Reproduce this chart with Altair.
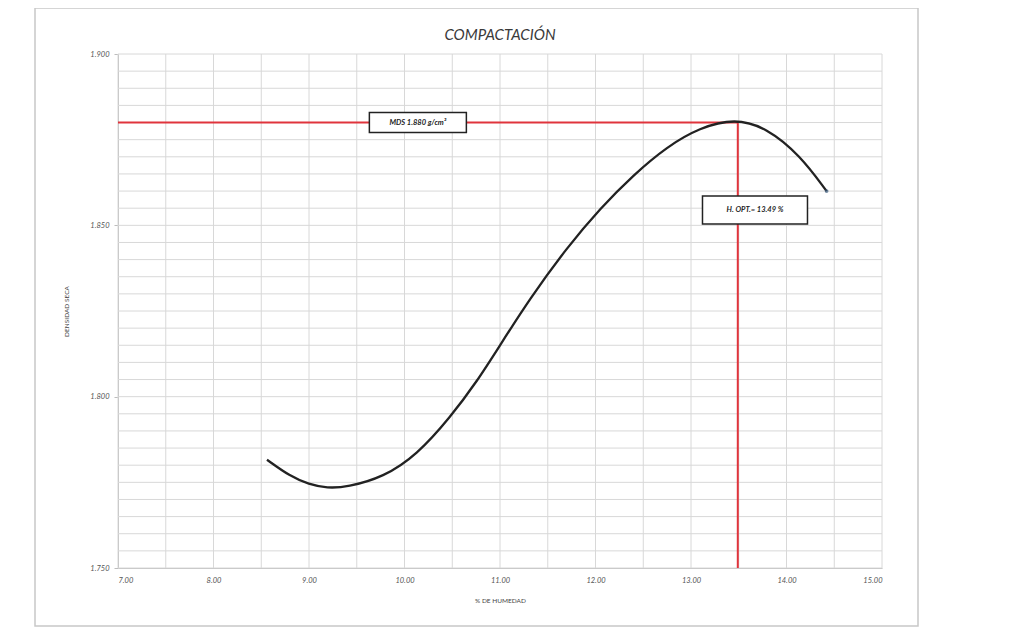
import altair as alt
import pandas as pd

# Curve
humedad = [8.56, 8.80, 9.00, 9.19, 9.40, 9.78, 10.13, 10.48, 10.76, 11.00, 11.31,
           11.70, 12.05, 12.40, 12.75, 13.09, 13.46, 13.79, 14.14, 14.42]
densidad = [1.7816, 1.7768, 1.7744, 1.7733, 1.7736, 1.7765, 1.7830, 1.7940, 1.8045,
            1.8150, 1.8285, 1.8435, 1.8550, 1.8648, 1.8730, 1.8785, 1.8812, 1.8785,
            1.8705, 1.8600]

x_ticks = [7.0, 8.0, 9.0, 10.0, 11.0, 12.0, 13.0, 14.0, 15.0]
y_ticks = [1.750, 1.800, 1.850, 1.900]
x_grid = [7.0 + 0.5 * i for i in range(17)]
y_grid = [round(1.750 + 0.005 * i, 3) for i in range(31)]

mds = 1.880
h_opt = 13.49
labels = ["MDS 1.880 g/cm³", "H. OPT.= 13.49 %"]
label_x = [10.14, 13.67]
label_y = [1.880, 1.8545]
label_w = [97, 105]
label_h = [20, 28]
title_text = ["COMPACTACIÓN"]

FONT = "Lato"
xs = alt.Scale(domain=[7, 15], nice=False, zero=False)
ys = alt.Scale(domain=[1.75, 1.90], nice=False, zero=False)
xaxis = alt.Axis(values=x_ticks, format=".2f", title="% DE HUMEDAD", grid=False,
                 ticks=False, labelPadding=8, titlePadding=14)
yaxis = alt.Axis(values=y_ticks, format=".3f", title="DENSIDAD SECA", grid=False,
                 tickSize=4, labelPadding=5, titlePadding=20)


def X(f):
    return alt.X(f, type="quantitative", scale=xs, axis=xaxis)


def Y(f):
    return alt.Y(f, type="quantitative", scale=ys, axis=yaxis)


curve_df = pd.DataFrame({"h": humedad, "d": densidad})
xg_df = pd.DataFrame({"xg": x_grid})
yg_df = pd.DataFrame({"yg": y_grid})
ref_df = pd.DataFrame({"x0": [x_ticks[0]], "h": [h_opt], "y0": [y_ticks[0]], "d": [mds]})
lab_df = pd.DataFrame({"t": labels, "lx": label_x, "ly": label_y})
title_df = pd.DataFrame({"t": title_text})

frame = alt.Chart(pd.DataFrame({"a": [0]})).mark_rect(
    fillOpacity=0, stroke="#c8c8c8", strokeWidth=1.5
).encode(x=alt.value(-83), x2=alt.value(800), y=alt.value(-46), y2=alt.value(572))

title = alt.Chart(title_df).mark_text(
    font=FONT, fontSize=15, fontStyle="italic", color="#3a3a3a", baseline="middle"
).encode(x=alt.value(382), y=alt.value(-19), text="t")

vgrid = alt.Chart(xg_df).mark_rule(color="#d8d8d8", strokeWidth=1).encode(x=X("xg"))
hgrid = alt.Chart(yg_df).mark_rule(color="#d8d8d8", strokeWidth=1).encode(y=Y("yg"))

line = alt.Chart(curve_df).mark_line(
    color="#222222", strokeWidth=2.3, interpolate="basis"
).encode(x=X("h"), y=Y("d"))

end_pt = alt.Chart(curve_df.tail(1)).mark_point(
    filled=True, color="#3a5a7a", size=14
).encode(x=X("h"), y=Y("d"))

hline = alt.Chart(ref_df).mark_rule(color="#e0343c", strokeWidth=2).encode(
    x=X("x0"), x2="h", y=Y("d"))
vline = alt.Chart(ref_df).mark_rule(color="#e0343c", strokeWidth=2).encode(
    x=X("h"), y=Y("y0"), y2="d")

boxes = [
    alt.Chart(lab_df.iloc[[i]]).mark_rect(
        fill="white", stroke="#222222", strokeWidth=1.5,
        width=label_w[i], height=label_h[i]
    ).encode(x=X("lx"), y=Y("ly"))
    for i in range(len(labels))
]
texts = alt.Chart(lab_df).mark_text(
    font=FONT, fontSize=7.5, fontWeight="bold", fontStyle="italic", color="#222222"
).encode(x=X("lx"), y=Y("ly"), text="t")

chart = alt.layer(
    frame, title, vgrid, hgrid, hline, vline, line, end_pt, *boxes, texts
).properties(
    width=764, height=514,
    padding={"left": 110, "top": 46, "right": 119, "bottom": 59},
    autosize=alt.AutoSizeParams(type="none"),
).configure(background="white").configure_view(stroke=None).configure_axis(
    labelFont=FONT, labelFontSize=7.5, labelFontStyle="italic", labelColor="#555555",
    titleFont=FONT, titleFontSize=6.5, titleFontWeight="normal", titleColor="#444444",
    domainColor="#bdbdbd", tickColor="#bdbdbd"
)

chart.save("out.html", embed_options={"renderer": "svg", "actions": False})
